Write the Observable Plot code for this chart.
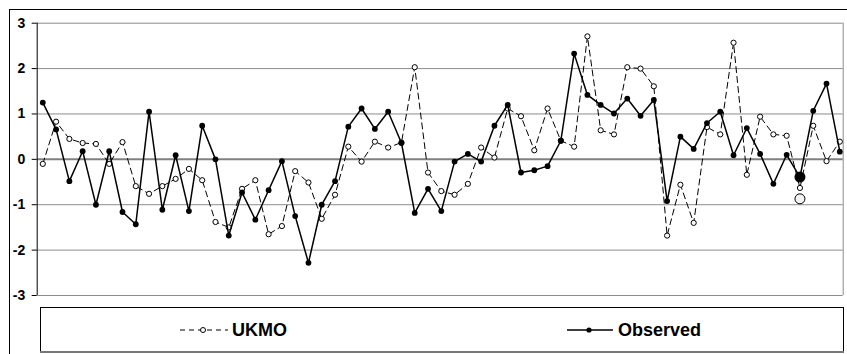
<!DOCTYPE html>
<html>
<head>
<meta charset="utf-8">
<script src="https://cdn.jsdelivr.net/npm/d3@7"></script>
<script src="https://cdn.jsdelivr.net/npm/@observablehq/plot@0.6"></script>
<style>
  html, body { margin: 0; padding: 0; background: #fff; }
  #wrap { position: relative; width: 847px; height: 354px; overflow: hidden; font-family: "Liberation Sans", Arial, sans-serif; }
  #outer { position: absolute; left: 9px; top: 9px; width: 900px; height: 400px; border: 1px solid #000; box-sizing: border-box; }
  #chart { position: absolute; left: 0; top: 0; }
  #legend { position: absolute; left: 0; top: 0; }
</style>
</head>
<body>
<div id="wrap">
  <div id="outer"></div>
  <div id="chart"></div>
  <svg id="legend" width="847" height="354"></svg>
</div>
<script>
// categories (seasons, in order)
const seasons = d3.range(61);
// Observed series
const observed = [1.25, 0.66, -0.48, 0.18, -1.00, 0.18, -1.16, -1.43, 1.05, -1.11, 0.09, -1.14, 0.74, 0.00,
  -1.68, -0.73, -1.33, -0.68, -0.04, -1.25, -2.28, -1.00, -0.48, 0.72, 1.12, 0.67, 1.05, 0.36,
  -1.18, -0.65, -1.14, -0.05, 0.12, -0.05, 0.74, 1.20, -0.29, -0.24, -0.15, 0.41,
  2.33, 1.42, 1.20, 1.01, 1.34, 0.96, 1.31, -0.92, 0.50, 0.23,
  0.80, 1.05, 0.09, 0.69, 0.12, -0.54, 0.10, -0.39, 1.07, 1.67, 0.17];
// UKMO forecast series
const ukmo = [-0.10, 0.83, 0.45, 0.36, 0.34, -0.10, 0.38, -0.59, -0.76, -0.59, -0.43, -0.21, -0.46, -1.38,
  -1.50, -0.65, -0.46, -1.65, -1.47, -0.26, -0.51, -1.31, -0.78, 0.28, -0.05, 0.39, 0.26, 0.37,
  2.03, -0.29, -0.70, -0.78, -0.54, 0.26, 0.04, 1.12, 0.95, 0.20, 1.12, 0.41,
  0.28, 2.71, 0.64, 0.55, 2.03, 2.00, 1.61, -1.68, -0.56, -1.40,
  0.71, 0.55, 2.57, -0.34, 0.94, 0.55, 0.52, -0.63, 0.74, -0.04, 0.39];
// highlighted latest season
const highlightIndex = [57];
const highlightForecast = [-0.87];
// y ticks
const yTicks = [-3, -2, -1, 0, 1, 2, 3];
const gridTicks = [-3, -2, -1, 1, 2, 3];
const seriesNames = ["UKMO", "Observed"];

const obsData = seasons.map((s, i) => ({s, v: observed[i]}));
const ukData = seasons.map((s, i) => ({s, v: ukmo[i]}));
const hiObs = highlightIndex.map(i => ({s: seasons[i], v: observed[i]}));
const hiFc = highlightIndex.map((i, k) => ({s: seasons[i], v: highlightForecast[k]}));

const xDomain = [-0.4216, 60.256];

const chart = Plot.plot({
  width: 847,
  height: 354,
  marginLeft: 36.7,
  marginRight: 4.3,
  marginTop: 22.7,
  marginBottom: 59,
  style: {fontFamily: "'Liberation Sans', Arial, sans-serif", background: "transparent"},
  x: {type: "linear", domain: xDomain, axis: null},
  y: {domain: [-3, 3], axis: null},
  marks: [
    Plot.ruleY(gridTicks, {stroke: "#8c8c8c", strokeWidth: 1}),
    Plot.ruleX([xDomain[1]], {stroke: "#8c8c8c", strokeWidth: 1}),
    Plot.ruleY([0], {stroke: "#808080", strokeWidth: 2}),
    Plot.ruleX([xDomain[0]], {stroke: "#000", strokeWidth: 1}),
    Plot.axisY({ticks: yTicks, tickSize: 5, tickPadding: 7, tickFormat: d => String(d), label: null,
      fontSize: 14, fontWeight: "bold", fill: "#000", stroke: "#000"}),
    Plot.line(ukData, {x: "s", y: "v", stroke: "#000", strokeWidth: 1, strokeDasharray: "6,4"}),
    Plot.dot(ukData, {x: "s", y: "v", r: 2.6, fill: "#fff", stroke: "#000", strokeWidth: 1}),
    Plot.line(obsData, {x: "s", y: "v", stroke: "#000", strokeWidth: 1.5}),
    Plot.dot(obsData, {x: "s", y: "v", r: 2.9, fill: "#000"}),
    Plot.dot(hiObs, {x: "s", y: "v", r: 5.5, fill: "#000"}),
    Plot.dot(hiFc, {x: "s", y: "v", r: 5, fill: "#f2f2f2", stroke: "#000", strokeWidth: 1})
  ]
});
document.getElementById("chart").appendChild(chart);

// legend
const lg = d3.select("#legend");
lg.append("rect").attr("x", 40.5).attr("y", 307.5).attr("width", 803).attr("height", 44)
  .attr("fill", "#fff").attr("stroke", "#000").attr("stroke-width", 1);
lg.append("line").attr("x1", 40).attr("x2", 844).attr("y1", 352).attr("y2", 352)
  .attr("stroke", "#777").attr("stroke-width", 2);
const fs = 18;
const cy = 330;
// UKMO item
lg.append("line").attr("x1", 180).attr("x2", 228).attr("y1", cy).attr("y2", cy)
  .attr("stroke", "#000").attr("stroke-width", 1.2).attr("stroke-dasharray", "5,4");
lg.append("circle").attr("cx", 203).attr("cy", cy).attr("r", 2.5).attr("fill", "#fff").attr("stroke", "#000");
lg.append("text").attr("x", 232).attr("y", cy + 0.358 * fs).text(seriesNames[0])
  .attr("font-family", "'Liberation Sans', Arial, sans-serif").attr("font-weight", "bold").attr("font-size", fs);
// Observed item
lg.append("line").attr("x1", 567).attr("x2", 613).attr("y1", cy).attr("y2", cy)
  .attr("stroke", "#000").attr("stroke-width", 1.4);
lg.append("circle").attr("cx", 589).attr("cy", cy).attr("r", 2.6).attr("fill", "#000");
lg.append("text").attr("x", 618).attr("y", cy + 0.358 * fs).text(seriesNames[1])
  .attr("font-family", "'Liberation Sans', Arial, sans-serif").attr("font-weight", "bold").attr("font-size", fs);
</script>
</body>
</html>
